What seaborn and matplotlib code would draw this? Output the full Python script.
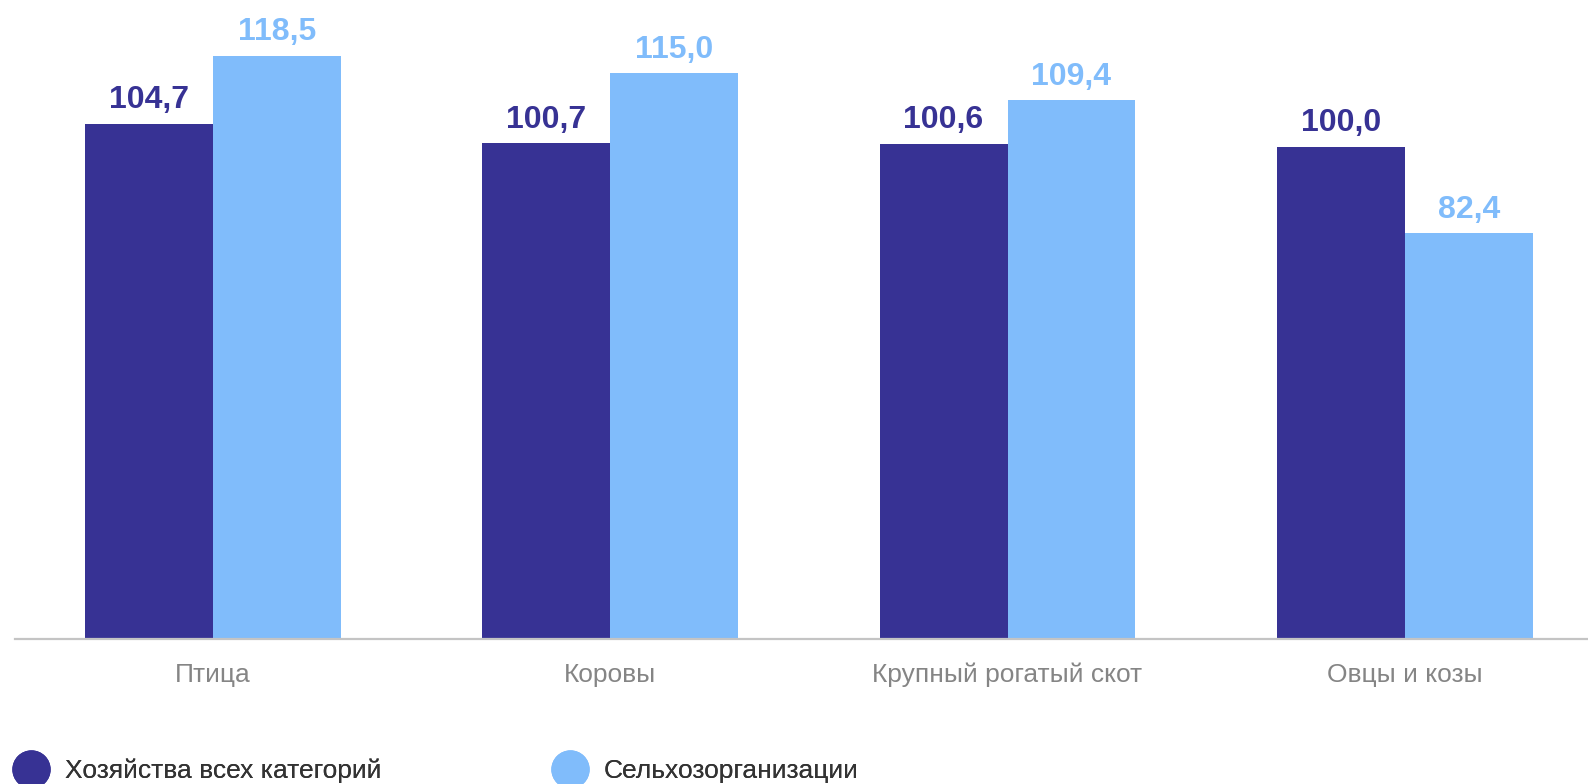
import matplotlib
matplotlib.use('Agg')
import matplotlib.pyplot as plt
from matplotlib.lines import Line2D
import pandas as pd
import seaborn as sns

# данные
categories = ['Птица', 'Коровы', 'Крупный рогатый скот', 'Овцы и козы']
series = ['Хозяйства всех категорий', 'Сельхозорганизации']
all_farms = [104.7, 100.7, 100.6, 100.0]
agro_orgs = [118.5, 115.0, 109.4, 82.4]
colors = ['#373294', '#80BCFB']

sns.set_style('white')
plt.rcParams['font.family'] = ['Liberation Sans', 'DejaVu Sans']

df = pd.DataFrame({
    'cat': categories * 2,
    'series': [series[0]] * 4 + [series[1]] * 4,
    'value': all_farms + agro_orgs,
})

fig = plt.figure(figsize=(15.88, 7.84), dpi=100)
ax = fig.add_axes([15 / 1588, 1 - 639 / 784, 1573 / 1588, 639 / 784])

sns.barplot(data=df, x='cat', y='value', hue='series', palette=colors,
            width=0.644, gap=0, saturation=1, legend=False, linewidth=0, ax=ax)

for cont, c in zip(ax.containers, colors):
    ax.bar_label(cont, labels=[f'{v:.1f}'.replace('.', ',') for v in cont.datavalues],
                 padding=6, color=c, fontsize=23, fontweight='bold')

ax.set_xlim(-0.498, 3.461)
ax.set_ylim(0, 129.8)
ax.set_xlabel('')
ax.set_ylabel('')
ax.set_yticks([])
for s in ['top', 'right', 'left']:
    ax.spines[s].set_visible(False)
ax.spines['bottom'].set_color('#C4C4C4')
ax.spines['bottom'].set_linewidth(1.6)
ax.tick_params(axis='x', length=0, pad=17, labelsize=19, labelcolor='#858585')

# легенда снизу
for i, (name, c) in enumerate(zip(series, colors)):
    h = Line2D([], [], marker='o', linestyle='', markersize=26.6,
               markerfacecolor=c, markeredgecolor=c)
    x0 = [13 / 1588, 552 / 1588][i]
    leg = fig.legend([h], [name], loc='center left',
                     bbox_to_anchor=(x0, 1 - 771 / 784), frameon=False,
                     fontsize=19, handlelength=1.4, handletextpad=0.57,
                     borderpad=0, borderaxespad=0)
    for t in leg.get_texts():
        t.set_color('#333333')
    fig.add_artist(leg)

fig.savefig('out.png', dpi=100)
